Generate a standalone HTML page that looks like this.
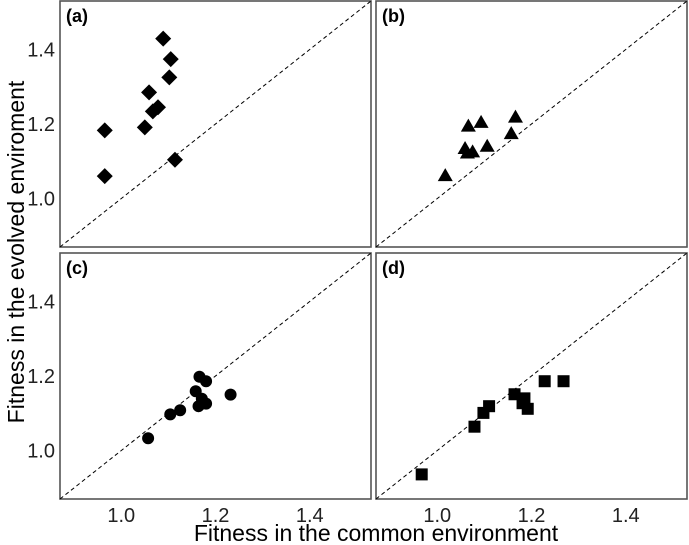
<!DOCTYPE html>
<html><head><meta charset="utf-8"><style>
html,body{margin:0;padding:0;background:#fff;}
svg{display:block;font-family:"Liberation Sans",sans-serif;}
</style></head><body>
<svg id="chart" width="689" height="545" viewBox="0 0 689 545" xmlns="http://www.w3.org/2000/svg"></svg>
<script>
const xTicks=[1.0,1.2,1.4];
const yTicks=[1.0,1.2,1.4];
const tickLabels=["1.0","1.2","1.4"];
const panelLabels=["(a)","(b)","(c)","(d)"];
const aX=[0.965,0.965,1.050,1.059,1.067,1.078,1.089,1.105,1.102,1.114];
const aY=[1.183,1.060,1.191,1.285,1.234,1.245,1.429,1.374,1.325,1.104];
const bX=[1.017,1.066,1.093,1.166,1.157,1.106,1.059,1.075,1.064];
const bY=[1.060,1.193,1.203,1.217,1.173,1.139,1.133,1.124,1.121];
const cX=[1.057,1.104,1.125,1.158,1.166,1.180,1.164,1.180,1.171,1.232];
const cY=[1.033,1.097,1.108,1.159,1.198,1.186,1.119,1.126,1.139,1.150];
const dX=[0.967,1.079,1.098,1.110,1.164,1.185,1.181,1.192,1.228,1.268];
const dY=[0.936,1.064,1.101,1.119,1.151,1.140,1.127,1.112,1.186,1.186];
const seriesX=[aX,bX,cX,dX], seriesY=[aY,bY,cY,dY];
const shapes=["diamond","triangle","circle","square"];
const LO=0.87, HI=1.53, W=311, H=246;
const panels=[{x:60,y:1},{x:376,y:1},{x:60,y:253},{x:376,y:253}];
const NS="http://www.w3.org/2000/svg";
const svg=document.getElementById('chart');
function mk(tag,attrs,parent){const e=document.createElementNS(NS,tag);for(const k in attrs)e.setAttribute(k,attrs[k]);(parent||svg).appendChild(e);return e;}
panels.forEach((p,i)=>{
  const sx=v=>p.x+(v-LO)/(HI-LO)*W;
  const sy=v=>p.y+H-(v-LO)/(HI-LO)*H;
  const g=mk('g',{});
  
  
  const r=mk('rect',{x:p.x,y:p.y,width:W,height:H,fill:'#fff',stroke:'#555','stroke-width':1.6},g);
  
  
  const ln=mk('line',{x1:sx(LO),y1:sy(LO),x2:sx(HI),y2:sy(HI),stroke:'#000','stroke-width':1,'stroke-dasharray':'4,3'},g);
  
  
  const t=mk('text',{x:p.x+6,y:p.y+21,'font-size':18,'font-weight':'bold',fill:'#000'},g);
  t.textContent=panelLabels[i];
  
  
  if(p.x===60){yTicks.forEach((v,k)=>{const tl=mk('text',{x:55,y:sy(v)+7,'font-size':20,'text-anchor':'end',fill:'#222'},g);tl.textContent=tickLabels[k];
    
    });}
  if(p.y===253){xTicks.forEach((v,k)=>{const tl=mk('text',{x:sx(v),y:522,'font-size':20,'text-anchor':'middle',fill:'#222'},g);tl.textContent=tickLabels[k];
    
    });}
  const X=seriesX[i],Y=seriesY[i];
  X.forEach((xv,k)=>{
    const cx=sx(xv),cy=sy(Y[k]);let m;
    if(shapes[i]==='diamond')m=mk('polygon',{points:`${cx},${cy-8} ${cx+8},${cy} ${cx},${cy+8} ${cx-8},${cy}`,fill:'#000'},g);
    else if(shapes[i]==='triangle')m=mk('polygon',{points:`${cx},${cy-8} ${cx+7.5},${cy+5} ${cx-7.5},${cy+5}`,fill:'#000'},g);
    else if(shapes[i]==='circle')m=mk('circle',{cx:cx,cy:cy,r:6,fill:'#000'},g);
    else m=mk('rect',{x:cx-6,y:cy-6,width:12,height:12,fill:'#000'},g);
    
    
  });
});
const xl=mk('text',{x:376,y:541,'font-size':23,'text-anchor':'middle',fill:'#000'});
xl.textContent='Fitness in the common environment';


const yl=mk('text',{x:0,y:0,'font-size':23,'text-anchor':'middle',fill:'#000',transform:'translate(24,252) rotate(-90)'});
yl.textContent='Fitness in the evolved enviroment';


</script>
</body></html>
